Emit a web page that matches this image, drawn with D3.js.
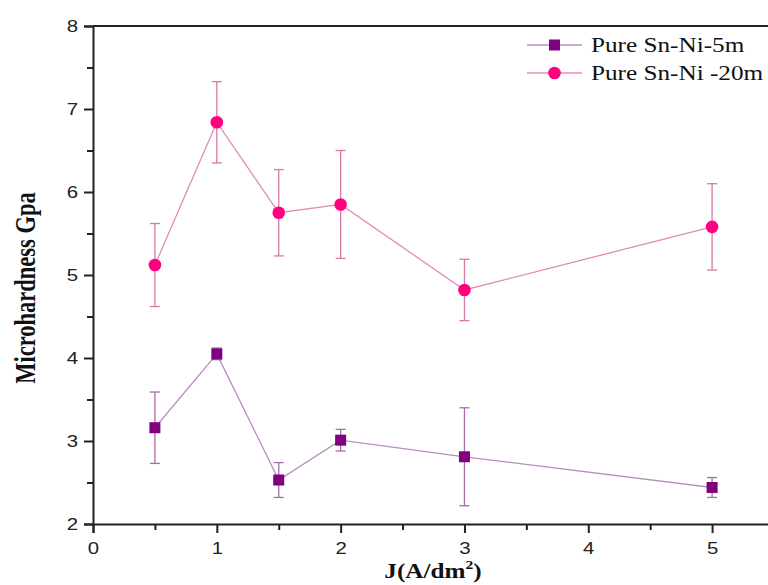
<!DOCTYPE html>
<html>
<head>
<meta charset="utf-8">
<script src="https://cdn.jsdelivr.net/npm/d3@7"></script>
<style>
  html, body { margin: 0; padding: 0; background: #fff; }
  svg { display: block; }
</style>
</head>
<body>
<svg id="chart" width="768" height="585"></svg>
<script>
// Current density (A/dm²)
const currentDensity = [0.5, 1, 1.5, 2, 3, 5];

// Microhardness (GPa) and error half-widths for each deposition time
const hardness5m  = [3.16, 4.05, 2.53, 3.01, 2.81, 2.44];
const error5m     = [0.43, 0.07, 0.21, 0.13, 0.59, 0.12];
const hardness20m = [5.12, 6.84, 5.75, 5.85, 4.82, 5.58];
const error20m    = [0.50, 0.49, 0.52, 0.65, 0.37, 0.52];

const seriesNames = ["Pure Sn-Ni-5m", "Pure Sn-Ni -20m"];

const xTicks = [0, 1, 2, 3, 4, 5];
const yTicks = [2, 3, 4, 5, 6, 7, 8];

const svg = d3.select("#chart");
const plotLeft = 93, plotTop = 26, plotRight = 774, plotBottom = 524;
const stretch = 1.2;   // wide lettering
const serif = "'Liberation Serif', 'Times New Roman', serif";
const sans = "'Liberation Sans', Arial, sans-serif";

const x = d3.scaleLinear().domain([0, 5.5]).range([plotLeft, plotRight]);
const y = d3.scaleLinear().domain([2, 8]).range([plotBottom, plotTop]);

const series = [
  { name: seriesNames[0], values: hardness5m, errors: error5m,
    marker: "square", fill: "#800080", line: "#b98cc0", bar: "#a86aa8" },
  { name: seriesNames[1], values: hardness20m, errors: error20m,
    marker: "circle", fill: "#ff007f", line: "#e08cb8", bar: "#d878a8" }
];

// Frame
svg.append("line").attr("x1", plotLeft).attr("x2", plotRight).attr("y1", plotTop).attr("y2", plotTop)
  .attr("stroke", "#222").attr("stroke-width", 2);
svg.append("line").attr("x1", plotRight).attr("x2", plotRight).attr("y1", plotTop).attr("y2", plotBottom)
  .attr("stroke", "#222").attr("stroke-width", 2);

// Axes with major and minor ticks
const xAxis = svg.append("g").attr("transform", `translate(0,${plotBottom})`)
  .call(d3.axisBottom(x).tickValues(xTicks).tickFormat(d3.format("d")).tickSize(9).tickPadding(7));
svg.append("g").attr("transform", `translate(0,${plotBottom})`)
  .call(d3.axisBottom(x).tickValues([0.5, 1.5, 2.5, 3.5, 4.5]).tickSize(6).tickFormat(""))
  .call(g => g.select(".domain").remove());

const yAxis = svg.append("g").attr("transform", `translate(${plotLeft},0)`)
  .call(d3.axisLeft(y).tickValues(yTicks).tickFormat(d3.format("d")).tickSize(9).tickPadding(6));
svg.append("g").attr("transform", `translate(${plotLeft},0)`)
  .call(d3.axisLeft(y).tickValues([2.5, 3.5, 4.5, 5.5, 6.5, 7.5]).tickSize(6).tickFormat(""))
  .call(g => g.select(".domain").remove());

svg.selectAll(".domain").attr("stroke", "#222").attr("stroke-width", 2);
svg.selectAll(".tick line").attr("stroke", "#222").attr("stroke-width", 2);
svg.selectAll(".tick text")
  .attr("font-family", sans)
  .attr("font-size", 17).attr("fill", "#222")
  .attr("transform", `scale(${stretch},1)`);
xAxis.selectAll(".tick text").attr("dy", "0.85em");
yAxis.selectAll(".tick text").attr("x", -15 / stretch);

// Axis titles
const xTitle = svg.append("text")
  .attr("transform", `translate(433,578) scale(${stretch},1)`)
  .attr("text-anchor", "middle")
  .attr("font-family", serif)
  .attr("font-weight", "bold").attr("font-size", 21).attr("fill", "#111");
xTitle.append("tspan").text("J(A/dm");
xTitle.append("tspan").text("2").attr("font-size", 13).attr("dy", -9);
xTitle.append("tspan").text(")").attr("dy", 9);

svg.append("text")
  .attr("transform", `translate(35,288) scale(1.3,1) rotate(-90)`)
  .attr("text-anchor", "middle")
  .attr("font-family", serif)
  .attr("font-weight", "bold").attr("font-size", 22.5).attr("fill", "#111")
  .text("Microhardness Gpa");

// Series: connecting line, error bars, markers
const lineGen = d3.line().x((d, i) => x(currentDensity[i])).y(d => y(d));

function drawMarker(g, s, cx, cy) {
  if (s.marker === "square") {
    g.append("rect").attr("x", cx - 5.5).attr("y", cy - 5.5)
      .attr("width", 11).attr("height", 11).attr("fill", s.fill);
  } else {
    g.append("circle").attr("cx", cx).attr("cy", cy).attr("r", 6.3).attr("fill", s.fill);
  }
}

series.forEach(s => {
  const g = svg.append("g");
  g.append("path").datum(s.values).attr("d", lineGen)
    .attr("fill", "none").attr("stroke", s.line).attr("stroke-width", 1.3);

  s.values.forEach((v, i) => {
    const cx = x(currentDensity[i]);
    const yHi = y(v + s.errors[i]), yLo = y(v - s.errors[i]);
    g.append("line").attr("x1", cx).attr("x2", cx).attr("y1", yHi).attr("y2", yLo)
      .attr("stroke", s.bar).attr("stroke-width", 1.3);
    [yHi, yLo].forEach(yy => g.append("line")
      .attr("x1", cx - 5).attr("x2", cx + 5).attr("y1", yy).attr("y2", yy)
      .attr("stroke", s.bar).attr("stroke-width", 1.3));
    drawMarker(g, s, cx, y(v));
  });
});

// Legend
const legend = svg.append("g");
series.forEach((s, i) => {
  const ly = 45 + i * 28;
  legend.append("line").attr("x1", 527).attr("x2", 582).attr("y1", ly).attr("y2", ly)
    .attr("stroke", s.line).attr("stroke-width", 1.3);
  drawMarker(legend, s, 554.5, ly);
  legend.append("text")
    .attr("transform", `translate(591,${ly + 7}) scale(${stretch},1)`)
    .attr("font-family", serif)
    .attr("font-size", 21).attr("fill", "#111").text(s.name);
});
</script>
</body>
</html>
